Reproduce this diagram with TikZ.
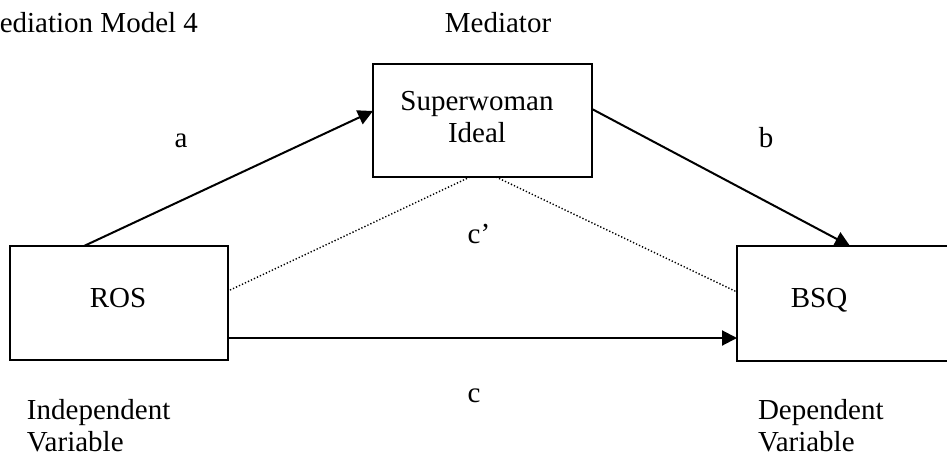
\documentclass[tikz,border=0pt]{standalone}
\usepackage{fontspec}
\setmainfont{Liberation Serif}
\usetikzlibrary{arrows.meta,calc}
\tikzset{
  boxnode/.style={draw, line width=2pt, rectangle, inner sep=0pt, outer sep=0pt},
  txt/.style={inner sep=0pt, outer sep=0pt, font=\fontsize{29}{32}\selectfont},
  arr/.style={line width=2pt, -{Triangle[length=15pt,width=15pt]}},
  dotline/.style={line width=1.4pt, dash pattern=on 1.3pt off 2pt}
}
\begin{document}
\begin{tikzpicture}[x=1pt,y=-1pt]
\useasboundingbox (0,0) rectangle (947,460);
\clip (0,0) rectangle (947,460);
\fill[white] (0,0) rectangle (947,460);
% boxes
\node[boxnode, minimum width=219pt, minimum height=113pt] (sw) at (482.5,120.5) {};
\node[boxnode, minimum width=218pt, minimum height=114pt] (ros) at (119,303) {};
\node[boxnode, minimum width=221pt, minimum height=115pt] (bsq) at (847.5,303.5) {};
% box texts
\node[txt, anchor=base, align=center] (swt) at (477,142) {Superwoman\\[0pt]Ideal};
\node[txt, anchor=base] (rost) at (118,307) {ROS};
\node[txt, anchor=base] (bsqt) at (819,307) {BSQ};
% titles and labels
\node[txt, anchor=base west] (title) at (-26,33) {Mediation Model 4};
\node[txt, anchor=base] (med) at (498,33) {Mediator};
\node[txt, anchor=base] (la) at (181,147) {a};
\node[txt, anchor=base] (lb) at (766,147) {b};
\node[txt, anchor=base] (lcp) at (479,243) {c’};
\node[txt, anchor=base] (lc) at (474,402) {c};
\node[txt, anchor=base west, align=left] (iv) at (27,451) {Independent\\[0pt]Variable};
\node[txt, anchor=base west, align=left] (dv) at (758,451) {Dependent\\[0pt]Variable};
% connectors
\coordinate (aS) at ($(ros.north west)+(74,0)$);
\coordinate (aE) at ($(sw.north west)+(0,47)$);
\coordinate (bS) at ($(sw.north east)+(0,45)$);
\coordinate (bE) at ($(bsq.north west)+(113,0)$);
\coordinate (cS) at ($(ros.north east)+(0,92)$);
\coordinate (cE) at ($(bsq.north west)+(0,92)$);
\coordinate (d1S) at ($(sw.south west)+(97,0)$);
\coordinate (d1E) at ($(ros.north east)+(0,45)$);
\coordinate (d2S) at ($(sw.south west)+(123,0)$);
\coordinate (d2E) at ($(bsq.north west)+(0,46)$);
\draw[arr] (aS) -- (aE);
\draw[arr] (bS) -- (bE);
\draw[arr] (cS) -- (cE);
\draw[dotline] (d1S) -- (d1E);
\draw[dotline] (d2S) -- (d2E);
\end{tikzpicture}
\end{document}
